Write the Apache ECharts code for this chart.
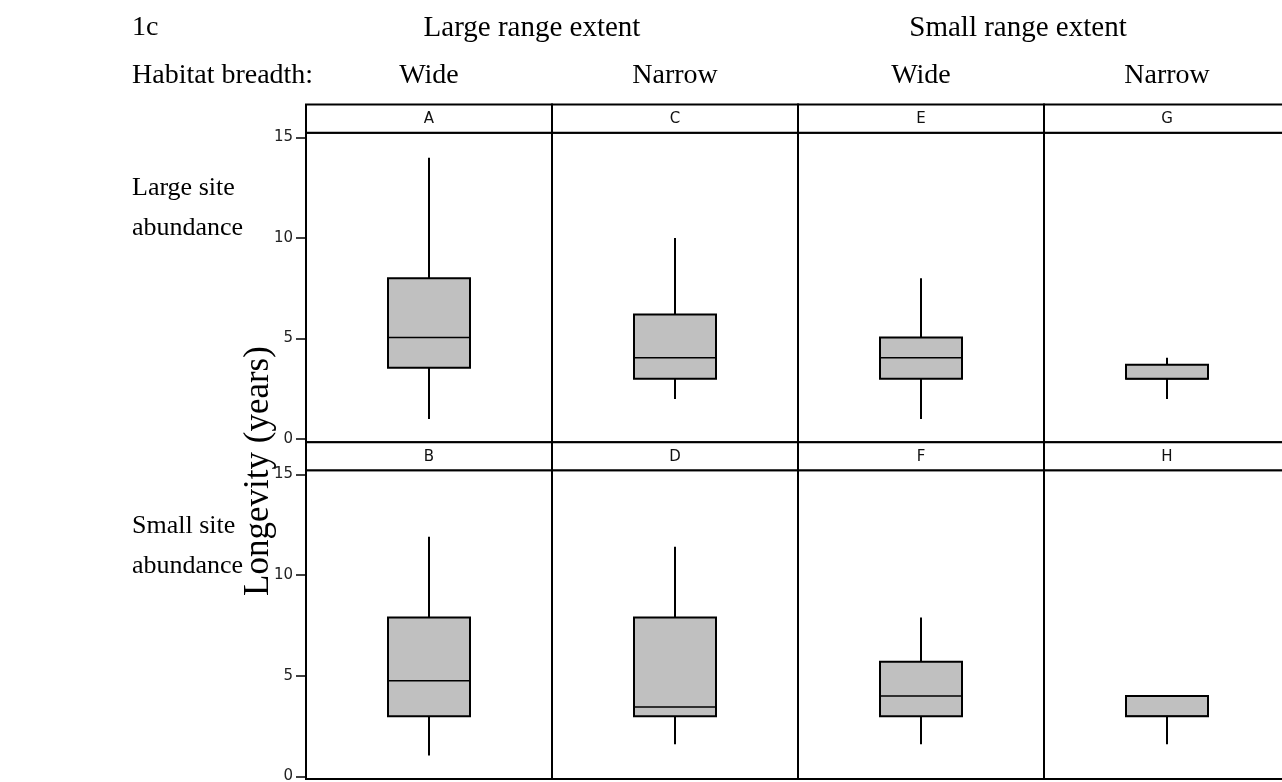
<!DOCTYPE html>
<html>
<head>
<meta charset="utf-8">
<script src="https://cdn.jsdelivr.net/npm/echarts@6/dist/echarts.min.js"></script>
<style>html,body{margin:0;padding:0;background:#fff;}#c{width:1282px;height:782px;}</style>
</head>
<body>
<div id="c"></div>
<script>
// ---- data (panel order A..H) ----
const panelLabels = ['A', 'B', 'C', 'D', 'E', 'F', 'G', 'H'];
const lowWhisker  = [1.0, 1.05, 2.0, 1.6, 1.0, 1.6, 2.0, 1.6];
const q1Values    = [3.55, 3.0, 3.0, 3.0, 3.0, 3.0, 3.0, 3.0];
const medianVals  = [5.05, 4.75, 4.05, 3.45, 4.05, 4.0, 3.0, 3.0];
const q3Values    = [8.0, 7.9, 6.2, 7.9, 5.05, 5.7, 3.7, 4.0];
const highWhisker = [14.0, 11.9, 10.0, 11.4, 8.0, 7.9, 4.05, 4.0];
const yTickValues = [0, 5, 10, 15];
const rangeExtentLabels = ['Large range extent', 'Small range extent'];
const habitatLabels = ['Wide', 'Narrow', 'Wide', 'Narrow'];
const siteLabels = [['Large site', 'abundance'], ['Small site', 'abundance']];
const yAxisTitle = 'Longevity (years)';

// ---- layout ----
const colLeft = [306, 552, 798, 1044];
const colW = 246;
const rowTop = [132.7, 470.3];
const rowH = [309.6, 308.7];
const rowMin = [-0.16, -0.12];
const rowMax = [15.24, 15.2];
const headerTop = [104.5, 442.3];

const chart = echarts.init(document.getElementById('c'), null, {renderer: 'canvas'});

const grids = [], xAxes = [], yAxes = [], series = [], graphics = [];
panelLabels.forEach((lab, i) => {
  const col = Math.floor(i / 2), row = i % 2;
  grids.push({left: colLeft[col], top: rowTop[row], width: colW, height: rowH[row],
    show: true, borderColor: '#000', borderWidth: 2, containLabel: false, outerBoundsMode: 'none'});
  xAxes.push({type: 'category', gridIndex: i, data: [lab], show: false});
  const showAxis = col === 0;
  yAxes.push({type: 'value', gridIndex: i, min: rowMin[row], max: rowMax[row],
    show: true,
    axisLine: {show: false},
    splitLine: {show: false},
    axisTick: {show: showAxis, customValues: yTickValues, length: 10, lineStyle: {color: '#000', width: 1.5}},
    axisLabel: {show: showAxis, customValues: yTickValues, color: '#222', fontSize: 15,
      fontFamily: 'DejaVu Sans', margin: 13}
  });
  series.push({
    type: 'custom', xAxisIndex: i, yAxisIndex: i,
    data: [[0, lowWhisker[i], q1Values[i], medianVals[i], q3Values[i], highWhisker[i]]],
    encode: {x: 0, y: [1, 2, 3, 4, 5]},
    renderItem: function (params, api) {
      const x = api.value(0);
      const lo = api.coord([x, api.value(1)]);
      const p1 = api.coord([x, api.value(2)]);
      const md = api.coord([x, api.value(3)]);
      const p3 = api.coord([x, api.value(4)]);
      const hi = api.coord([x, api.value(5)]);
      const bw = api.size([1, 0])[0] / 3;
      const cx = lo[0];
      const ls = {stroke: '#000', lineWidth: 2};
      return {type: 'group', children: [
        {type: 'line', shape: {x1: cx, y1: hi[1], x2: cx, y2: p3[1]}, style: ls},
        {type: 'line', shape: {x1: cx, y1: p1[1], x2: cx, y2: lo[1]}, style: ls},
        {type: 'rect', shape: {x: cx - bw / 2, y: p3[1], width: bw, height: p1[1] - p3[1]},
          style: {fill: '#c0c0c0', stroke: '#000', lineWidth: 2}},
        {type: 'line', shape: {x1: cx - bw / 2, y1: md[1], x2: cx + bw / 2, y2: md[1]},
          style: {stroke: '#000', lineWidth: 1.5}}
      ]};
    }
  });
  // header strip
  graphics.push({type: 'rect', shape: {x: colLeft[col], y: headerTop[row], width: colW, height: rowTop[row] - headerTop[row]},
    style: {fill: '#fff', stroke: '#000', lineWidth: 2}, z: 10});
  graphics.push({type: 'text', x: colLeft[col] + colW / 2, y: (headerTop[row] + rowTop[row]) / 2 + 1,
    style: {text: lab, fill: '#111', font: '15px "DejaVu Sans"', align: 'center', verticalAlign: 'middle'}, z: 11});
});

const serif = '28px "Liberation Serif"';
graphics.push({type: 'text', x: 132, y: 28, style: {text: '1c', fill: '#000', font: serif, verticalAlign: 'middle'}});
graphics.push({type: 'text', x: 532, y: 28, style: {text: rangeExtentLabels[0], fill: '#000', font: '29px "Liberation Serif"', align: 'center', verticalAlign: 'middle'}});
graphics.push({type: 'text', x: 1018, y: 28, style: {text: rangeExtentLabels[1], fill: '#000', font: '29px "Liberation Serif"', align: 'center', verticalAlign: 'middle'}});
graphics.push({type: 'text', x: 132, y: 76, style: {text: 'Habitat breadth:', fill: '#000', font: serif, verticalAlign: 'middle'}});
habitatLabels.forEach((t, c) => {
  graphics.push({type: 'text', x: colLeft[c] + colW / 2, y: 76, style: {text: t, fill: '#000', font: serif, align: 'center', verticalAlign: 'middle'}});
});
const siteY = [[188, 228], [526, 566]];
siteLabels.forEach((lines, r) => {
  lines.forEach((t, k) => {
    graphics.push({type: 'text', x: 132, y: siteY[r][k], style: {text: t, fill: '#000', font: '26px "Liberation Serif"', verticalAlign: 'middle'}});
  });
});
graphics.push({type: 'text', x: 259, y: 471, rotation: Math.PI / 2,
  style: {text: yAxisTitle, fill: '#000', font: '35px "Liberation Serif"', align: 'center', verticalAlign: 'middle'}});

chart.setOption({
  animation: false,
  backgroundColor: '#fff',
  grid: grids, xAxis: xAxes, yAxis: yAxes, series: series,
  graphic: graphics
});
</script>
</body>
</html>
